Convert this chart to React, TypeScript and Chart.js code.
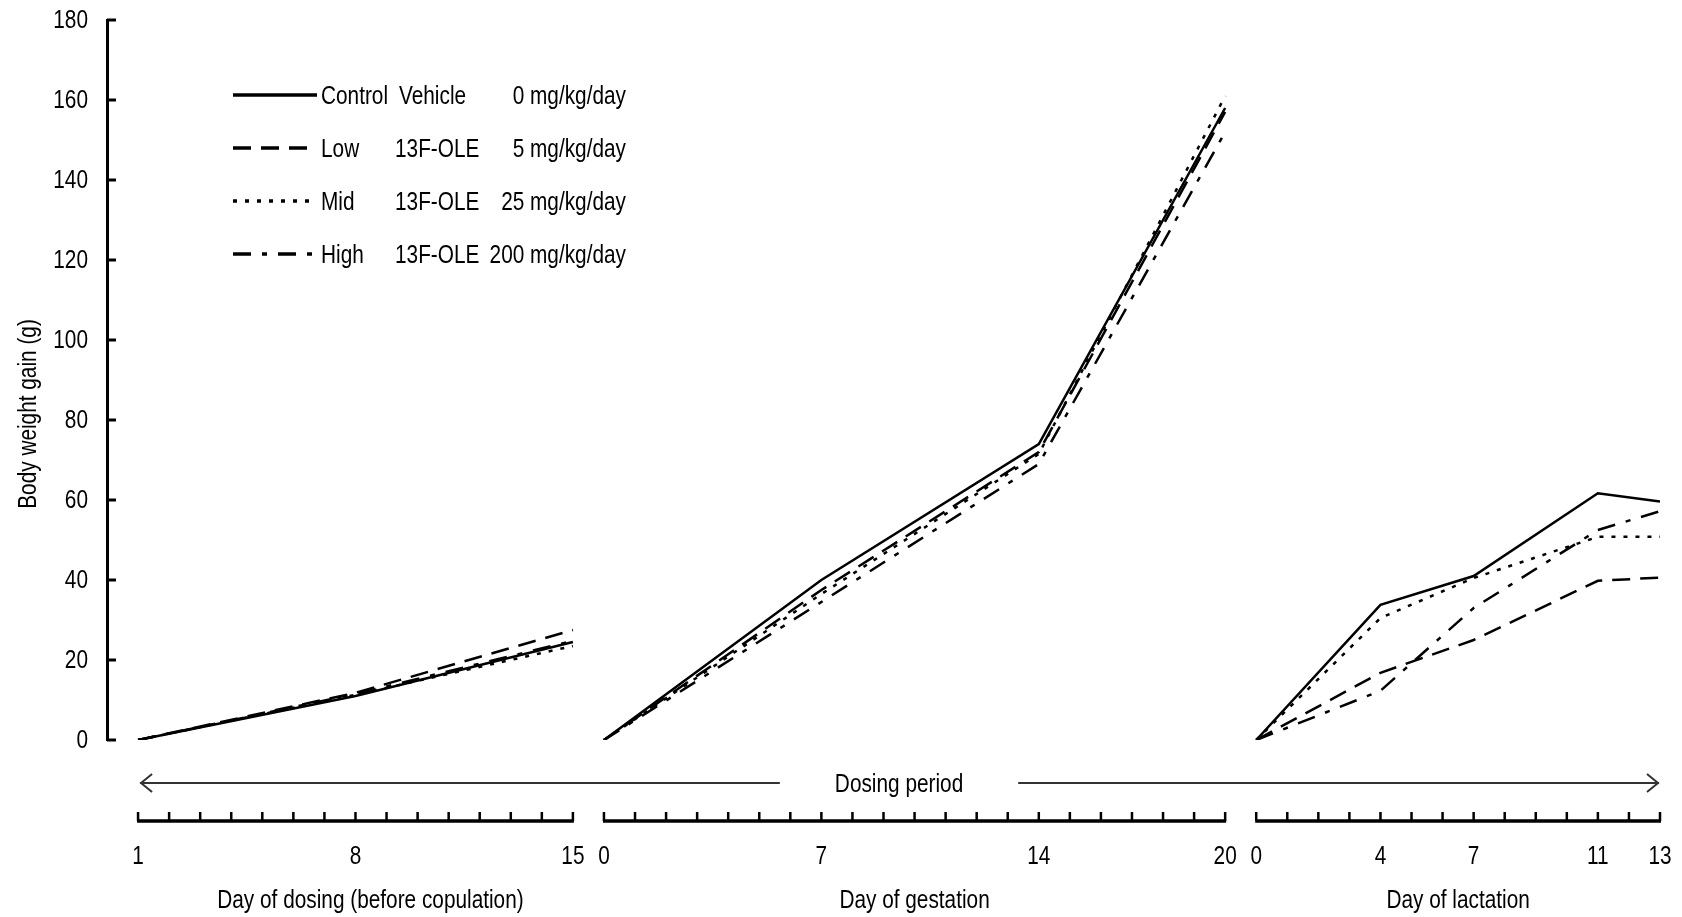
import React, { useEffect, useRef } from "react";
import { Chart, registerables } from "chart.js";

Chart.register(...registerables);

const FONT = '"Liberation Sans", Arial, sans-serif';
const FONT_SIZE = 26;
const NARROW = 0.8; // horizontal squeeze to mimic a condensed face

// ---- Data ----
const GROUPS = ["Control", "Low", "Mid", "High"];
const SUBSTANCES = ["Vehicle", "13F-OLE", "13F-OLE", "13F-OLE"];
const DOSES = ["0 mg/kg/day", "5 mg/kg/day", "25 mg/kg/day", "200 mg/kg/day"];

const PHASE_TITLES = ["Day of dosing (before copulation)", "Day of gestation", "Day of lactation"];
const PHASE_FIRST_DAY = [1, 0, 0];
const PHASE_LAST_DAY = [15, 20, 13];
const PHASE_OFFSET = [-1, 15, 36]; // position on the shared axis = day + offset

const PREMATING_DAYS = [1, 8, 15];
const GESTATION_DAYS = [0, 7, 14, 20];
const LACTATION_DAYS = [0, 4, 7, 11, 13];

const PREMATING_GAIN = [
  [0, 11, 24.5], // Control
  [0, 11.8, 27.5], // Low
  [0, 11.3, 23.5], // Mid
  [0, 11.5, 24.8], // High
];
const GESTATION_GAIN = [
  [0, 40, 74, 158],
  [0, 37.5, 72, 157],
  [0, 36.5, 71.5, 161],
  [0, 34.5, 69, 152],
];
const LACTATION_GAIN = [
  [0, 33.8, 41, 61.7, 59.6],
  [0, 16.8, 25, 39.8, 40.6],
  [0, 30.5, 40.5, 50.8, 50.8],
  [0, 12.3, 33, 52.5, 57.2],
];

const Y_MIN = 0;
const Y_MAX = 180;
const Y_STEP = 20;
const Y_TITLE = "Body weight gain (g)";
const DOSING_LABEL = "Dosing period";

const DASHES: number[][] = [[], [18, 10], [4, 8], [18, 11, 5, 11]];

function buildSeries(i: number) {
  const phases = [
    [PREMATING_DAYS, PREMATING_GAIN[i]],
    [GESTATION_DAYS, GESTATION_GAIN[i]],
    [LACTATION_DAYS, LACTATION_GAIN[i]],
  ];
  const pts: { x: number; y: number | null }[] = [];
  phases.forEach(([days, vals], p) => {
    if (p > 0) pts.push({ x: (days as number[])[0] + PHASE_OFFSET[p] - 0.5, y: null });
    (days as number[]).forEach((d, k) => pts.push({ x: d + PHASE_OFFSET[p], y: (vals as number[])[k] }));
  });
  return pts;
}

function text(ctx: CanvasRenderingContext2D, s: string, x: number, y: number, align: CanvasTextAlign, rot = 0) {
  ctx.save();
  ctx.translate(x, y);
  if (rot) ctx.rotate(rot);
  ctx.scale(NARROW, 1);
  ctx.font = `${FONT_SIZE}px ${FONT}`;
  ctx.textAlign = align;
  ctx.textBaseline = "middle";
  ctx.fillStyle = "#000";
  ctx.fillText(s, 0, 0);
  ctx.restore();
}

function textWidth(ctx: CanvasRenderingContext2D, s: string) {
  ctx.save();
  ctx.font = `${FONT_SIZE}px ${FONT}`;
  const w = ctx.measureText(s).width * NARROW;
  ctx.restore();
  return w;
}

const decorPlugin = {
  id: "decor",
  afterDraw(chart: any) {
    const ctx: CanvasRenderingContext2D = chart.ctx;
    const xs = chart.scales.x;
    const ys = chart.scales.y;
    const area = chart.chartArea;
    ctx.save();
    ctx.strokeStyle = "#000";

    // inward y ticks + labels
    ctx.lineWidth = 3;
    ys.ticks.forEach((t: any) => {
      const py = ys.getPixelForValue(t.value);
      ctx.beginPath();
      ctx.moveTo(area.left, py);
      ctx.lineTo(area.left + 9, py);
      ctx.stroke();
      text(ctx, String(t.value), area.left - 19, py + 1, "right");
    });

    // y title
    text(ctx, Y_TITLE, 29, 414, "center", -Math.PI / 2);

    // legend
    const rowY0 = 95;
    const rowStep = 53;
    chart.data.datasets.forEach((ds: any, i: number) => {
      const y = rowY0 + i * rowStep;
      ctx.save();
      ctx.lineWidth = 3.5;
      ctx.setLineDash(ds.borderDash || []);
      ctx.beginPath();
      ctx.moveTo(233, y);
      ctx.lineTo(317, y);
      ctx.stroke();
      ctx.restore();
      text(ctx, GROUPS[i], 321, y + 1.5, "left");
      text(ctx, SUBSTANCES[i], i === 0 ? 399 : 395, y + 1.5, "left");
      text(ctx, DOSES[i], 626, y + 1.5, "right");
    });

    // dosing period arrow
    const ay = 783;
    const ax0 = xs.getPixelForValue(PHASE_FIRST_DAY[0] + PHASE_OFFSET[0]);
    const ax1 = xs.getPixelForValue(PHASE_LAST_DAY[2] + PHASE_OFFSET[2]);
    const mid = (ax0 + ax1) / 2;
    const tw = textWidth(ctx, DOSING_LABEL);
    text(ctx, DOSING_LABEL, mid, ay + 2, "center");
    ctx.strokeStyle = "#333";
    ctx.lineWidth = 2;
    ctx.beginPath();
    ctx.moveTo(ax0 + 2, ay);
    ctx.lineTo(mid - tw / 2 - 55, ay);
    ctx.moveTo(mid + tw / 2 + 55, ay);
    ctx.lineTo(ax1 - 1, ay);
    ctx.moveTo(ax0 + 14, ay - 9);
    ctx.lineTo(ax0 + 3, ay);
    ctx.lineTo(ax0 + 14, ay + 9);
    ctx.moveTo(ax1 - 13, ay - 9);
    ctx.lineTo(ax1 - 2, ay);
    ctx.lineTo(ax1 - 13, ay + 9);
    ctx.stroke();

    // segmented day axes
    const by = 821;
    const labelDays = [PREMATING_DAYS, GESTATION_DAYS, LACTATION_DAYS];
    ctx.strokeStyle = "#000";
    PHASE_TITLES.forEach((title, p) => {
      const x0 = xs.getPixelForValue(PHASE_FIRST_DAY[p] + PHASE_OFFSET[p]);
      const x1 = xs.getPixelForValue(PHASE_LAST_DAY[p] + PHASE_OFFSET[p]);
      ctx.lineWidth = 3.5;
      ctx.beginPath();
      ctx.moveTo(x0 - 1, by);
      ctx.lineTo(x1 + 1, by);
      ctx.stroke();
      ctx.lineWidth = 2.5;
      ctx.beginPath();
      for (let d = PHASE_FIRST_DAY[p]; d <= PHASE_LAST_DAY[p]; d++) {
        const px = xs.getPixelForValue(d + PHASE_OFFSET[p]);
        ctx.moveTo(px, by);
        ctx.lineTo(px, by - 9);
      }
      ctx.stroke();
      labelDays[p].forEach((d) => {
        text(ctx, String(d), xs.getPixelForValue(d + PHASE_OFFSET[p]), 857, "center");
      });
      const tx = (x0 + x1) / 2 + (p === 0 ? 15 : 0);
      text(ctx, title, tx, 901, "center");
    });

    ctx.restore();
  },
};

export default function App() {
  const ref = useRef<HTMLCanvasElement | null>(null);
  useEffect(() => {
    if (!ref.current) return;
    const datasets = GROUPS.map((g, i) => ({
      label: g,
      data: buildSeries(i),
      borderColor: "#000",
      backgroundColor: "#000",
      borderWidth: 2.5,
      borderDash: DASHES[i],
      pointRadius: 0,
      tension: 0,
      spanGaps: false,
      fill: false,
    }));
    const chart = new Chart(ref.current, {
      type: "line",
      data: { datasets },
      options: {
        responsive: false,
        animation: false,
        layout: { padding: { left: 0, top: 20, right: 22, bottom: 177 } },
        plugins: { legend: { display: false }, tooltip: { enabled: false } },
        scales: {
          x: { type: "linear", min: -1, max: 49, display: false },
          y: {
            min: Y_MIN,
            max: Y_MAX,
            ticks: { stepSize: Y_STEP, display: false },
            grid: { display: false },
            border: { display: true, color: "#000", width: 3 },
            afterFit: (s: any) => {
              s.width = 107;
            },
          },
        },
      },
      plugins: [decorPlugin],
    } as any);
    return () => chart.destroy();
  }, []);
  return (
    <div style={{ position: "fixed", left: 0, top: 0, width: 1682, height: 917, background: "#fff" }}>
      <canvas ref={ref} width={1682} height={917} style={{ display: "block" }} />
    </div>
  );
}
